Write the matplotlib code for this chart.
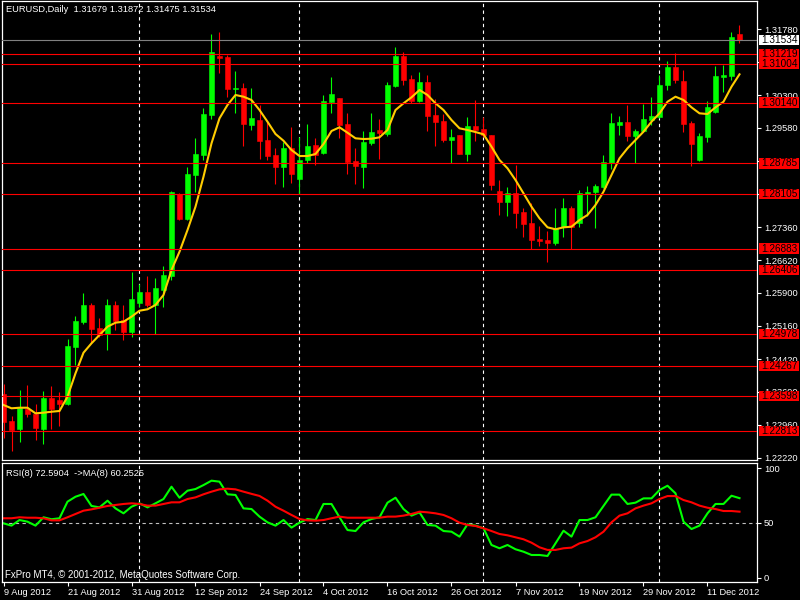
import matplotlib
matplotlib.use('Agg')
import matplotlib.pyplot as plt
import matplotlib.transforms as mtransforms
from matplotlib.patches import Rectangle

plt.rcParams['font.family'] = ['Liberation Sans', 'DejaVu Sans']

# EURUSD daily bars, 9 Aug 2012 .. 19 Dec 2012
opens = [1.23641, 1.23039, 1.22860, 1.23300, 1.23188, 1.22860, 1.23552, 1.23507, 1.23418, 1.24689,
         1.25246, 1.25626, 1.25113, 1.24979, 1.25626, 1.25291, 1.25023, 1.25670, 1.25915, 1.25626,
         1.25960, 1.26272, 1.28101, 1.27543, 1.28525, 1.28971, 1.29863, 1.31178, 1.31156, 1.30442,
         1.30465, 1.29640, 1.29751, 1.29305, 1.28971, 1.28703, 1.29127, 1.28435, 1.28859, 1.29194,
         1.29015, 1.30152, 1.30242, 1.29662, 1.28837, 1.28703, 1.29238, 1.29528, 1.29439, 1.30509,
         1.31178, 1.30665, 1.30175, 1.30598, 1.29863, 1.29729, 1.29305, 1.29417, 1.28993, 1.29617,
         1.29550, 1.29417, 1.28168, 1.27922, 1.28123, 1.27699, 1.27454, 1.27097, 1.27075, 1.27008,
         1.27365, 1.27789, 1.27454, 1.28101, 1.28145, 1.28257, 1.28792, 1.29640, 1.29706, 1.29394,
         1.29506, 1.29751, 1.29818, 1.30532, 1.30933, 1.30621, 1.29684, 1.28859, 1.29372, 1.29929,
         1.30710, 1.30732, 1.31679]
highs = [1.23864, 1.23150, 1.23730, 1.23842, 1.23418, 1.23708, 1.23819, 1.23685, 1.24867, 1.25380,
         1.25893, 1.25670, 1.25336, 1.25759, 1.25715, 1.25626, 1.26361, 1.26094, 1.26272, 1.26228,
         1.26495, 1.28168, 1.28123, 1.28703, 1.29356, 1.30019, 1.31669, 1.31713, 1.31201, 1.30844,
         1.30576, 1.30465, 1.30086, 1.29729, 1.29127, 1.29260, 1.29595, 1.29372, 1.29662, 1.29350,
         1.30309, 1.30710, 1.30242, 1.29907, 1.29127, 1.29506, 1.29907, 1.29773, 1.30598, 1.31379,
         1.31267, 1.30755, 1.30821, 1.30755, 1.30219, 1.29885, 1.29550, 1.29417, 1.29818, 1.30197,
         1.29818, 1.29417, 1.28413, 1.28257, 1.28748, 1.27789, 1.27900, 1.27387, 1.27276, 1.27789,
         1.28012, 1.27833, 1.28190, 1.28279, 1.28324, 1.28971, 1.29907, 1.29840, 1.30086, 1.29550,
         1.30108, 1.30264, 1.30755, 1.31067, 1.31245, 1.30866, 1.29729, 1.29461, 1.30175, 1.30955,
         1.30978, 1.31713, 1.31872]
lows = [1.22653, 1.22376, 1.22577, 1.23135, 1.22615, 1.22526, 1.22860, 1.22934, 1.23396, 1.24288,
        1.25202, 1.24778, 1.24919, 1.24622, 1.25068, 1.24845, 1.24912, 1.25581, 1.25581, 1.24979,
        1.25581, 1.26183, 1.27521, 1.27521, 1.28145, 1.28859, 1.29773, 1.30799, 1.30264, 1.29907,
        1.29171, 1.29528, 1.28881, 1.28859, 1.28324, 1.28257, 1.28346, 1.28101, 1.28792, 1.28748,
        1.28993, 1.29907, 1.29350, 1.28547, 1.28324, 1.28235, 1.29194, 1.28881, 1.29394, 1.30487,
        1.30532, 1.30130, 1.30152, 1.29506, 1.29171, 1.29260, 1.28792, 1.28993, 1.28837, 1.29283,
        1.29372, 1.28190, 1.27633, 1.27610, 1.27343, 1.27142, 1.26874, 1.26941, 1.26584, 1.26964,
        1.27142, 1.26874, 1.27365, 1.27610, 1.27343, 1.28235, 1.28658, 1.29417, 1.29283, 1.28792,
        1.29483, 1.29640, 1.29796, 1.30420, 1.30576, 1.29483, 1.28725, 1.28837, 1.29260, 1.29907,
        1.30375, 1.30643, 1.31475]
closes = [1.23023, 1.22838, 1.23322, 1.23195, 1.22889, 1.23552, 1.23306, 1.23418, 1.24711, 1.25269,
          1.25626, 1.25090, 1.24957, 1.25626, 1.25269, 1.25023, 1.25759, 1.25915, 1.25626, 1.26005,
          1.26295, 1.28145, 1.27543, 1.28547, 1.28993, 1.29885, 1.31267, 1.31134, 1.30442, 1.30465,
          1.29662, 1.29796, 1.29283, 1.28948, 1.28703, 1.29127, 1.28547, 1.28859, 1.29171, 1.28971,
          1.30175, 1.30331, 1.29640, 1.28814, 1.28725, 1.29260, 1.29483, 1.29461, 1.30532, 1.31178,
          1.30643, 1.30175, 1.30598, 1.29840, 1.29706, 1.29305, 1.29372, 1.28993, 1.29617, 1.29528,
          1.29417, 1.28302, 1.27922, 1.28123, 1.27677, 1.27432, 1.27075, 1.27053, 1.27008, 1.27343,
          1.27789, 1.27365, 1.28123, 1.28145, 1.28279, 1.28814, 1.29684, 1.29706, 1.29394, 1.29506,
          1.29773, 1.29840, 1.30532, 1.30933, 1.30643, 1.29662, 1.29216, 1.29394, 1.30041, 1.30732,
          1.30755, 1.31602, 1.31534]
# yellow moving average on the price panel
ma_line = [1.23396, 1.23322, 1.23335, 1.23335, 1.23210, 1.23224, 1.23246, 1.23262, 1.23581, 1.24102,
           1.24562, 1.24771, 1.24957, 1.25142, 1.25231, 1.25253, 1.25365, 1.25498, 1.25530, 1.25626,
           1.25849, 1.26406, 1.26814, 1.27298, 1.27818, 1.28487, 1.29231, 1.29789, 1.30086, 1.30309,
           1.30271, 1.30197, 1.29974, 1.29713, 1.29439, 1.29289, 1.29082, 1.28948, 1.28948, 1.28993,
           1.29216, 1.29506, 1.29588, 1.29468, 1.29343, 1.29327, 1.29334, 1.29365, 1.29528, 1.29974,
           1.30123, 1.30257, 1.30420, 1.30309, 1.30123, 1.29974, 1.29751, 1.29566, 1.29528, 1.29483,
           1.29432, 1.29156, 1.28859, 1.28674, 1.28413, 1.28116, 1.27818, 1.27559, 1.27358, 1.27314,
           1.27358, 1.27372, 1.27521, 1.27633, 1.27856, 1.28152, 1.28525, 1.28897, 1.29120, 1.29305,
           1.29490, 1.29713, 1.29900, 1.30159, 1.30271, 1.30197, 1.30034, 1.29900, 1.29885, 1.30034,
           1.30159, 1.30494, 1.30770]
rsi = [49.7, 47.6, 52.7, 51.2, 47.6, 55.2, 53.4, 54.3, 69.4, 73.9,
       76.4, 65.5, 64.2, 70.3, 63.3, 58.8, 64.8, 67.9, 64.2, 67.9,
       71.8, 83.0, 73.0, 79.4, 80.9, 84.5, 88.5, 87.6, 76.1, 75.5,
       63.3, 62.7, 55.8, 50.6, 47.6, 52.7, 45.8, 50.3, 53.6, 52.7,
       67.3, 67.3, 55.2, 43.6, 42.7, 50.6, 53.6, 55.2, 68.5, 73.0,
       62.7, 56.7, 59.7, 48.2, 47.6, 42.7, 42.1, 37.6, 48.8, 47.6,
       45.2, 30.0, 27.0, 30.0, 26.1, 23.9, 20.9, 20.9, 20.0, 31.5,
       43.0, 37.6, 52.7, 52.7, 55.2, 65.5, 75.8, 75.8, 67.3, 68.5,
       72.4, 72.4, 80.0, 83.9, 77.0, 51.2, 44.5, 47.6, 58.8, 67.3,
       67.3, 74.8, 72.6]
rsi_ma = [54.3, 54.3, 55.2, 54.8, 54.8, 54.3, 52.4, 52.4, 55.2, 58.2,
          61.2, 62.4, 63.9, 65.5, 66.4, 67.3, 67.9, 67.3, 65.8, 65.8,
          67.3, 68.8, 68.8, 71.8, 73.3, 76.1, 78.5, 80.6, 81.2, 80.6,
          78.5, 76.5, 74.6, 70.3, 64.8, 61.2, 57.3, 53.6, 52.4, 52.1,
          52.7, 54.3, 55.8, 54.8, 54.8, 54.8, 54.8, 54.8, 55.8, 55.8,
          56.7, 58.2, 60.3, 59.7, 58.8, 57.3, 54.3, 50.3, 48.2, 47.3,
          45.2, 42.7, 40.0, 38.8, 37.0, 35.2, 32.1, 27.9, 25.5, 25.5,
          27.0, 27.6, 31.5, 33.6, 37.0, 42.1, 50.6, 56.7, 58.8, 63.3,
          65.8, 67.9, 71.8, 74.5, 74.5, 70.9, 68.8, 65.8, 63.9, 62.7,
          60.9, 60.9, 60.3]

date_pos = [0, 8, 16, 24, 32, 40, 48, 56, 64, 72, 80, 88]
date_labels = ['9 Aug 2012', '21 Aug 2012', '31 Aug 2012', '12 Sep 2012', '24 Sep 2012', '4 Oct 2012',
               '16 Oct 2012', '26 Oct 2012', '7 Nov 2012', '19 Nov 2012', '29 Nov 2012', '11 Dec 2012']
month_starts = [17, 37, 60, 82]
price_ticks = [1.31780, 1.31040, 1.30300, 1.29580, 1.28840, 1.28100, 1.27360,
               1.26620, 1.25900, 1.25160, 1.24420, 1.23690, 1.22960, 1.22220]
# tick labels fully hidden behind the red price boxes
hidden_ticks = [1.31040, 1.28840, 1.28100]
levels = [1.31219, 1.31004, 1.30140, 1.28785, 1.28105, 1.26883, 1.26406,
          1.24978, 1.24267, 1.23598, 1.22813]
bid = 1.31534

FS = 6.7
fig = plt.figure(figsize=(8, 6), dpi=100, facecolor='black')
ax = fig.add_axes([0.0025, 0.23333, 0.94375, 0.765], facecolor='black')
ax2 = fig.add_axes([0.0025, 0.0305, 0.94375, 0.19733], facecolor='black')

n = len(closes)
xs = list(range(n))
for i in xs:
    col = '#00ff00' if closes[i] >= opens[i] else '#ff0000'
    ax.vlines(i, lows[i], highs[i], color=col, lw=0.8, zorder=2)
    lo, hi = min(opens[i], closes[i]), max(opens[i], closes[i])
    ax.bar(i, max(hi - lo, 0.00005), bottom=lo, width=0.6, color=col,
           edgecolor=col, lw=0.4, zorder=2)

ax.plot(xs, ma_line, color='#ffcc00', lw=1.5, zorder=2.5)

for lv in levels:
    ax.axhline(lv, color='#ff0000', lw=0.8, zorder=3)
ax.axhline(bid, color='#808080', lw=0.8, zorder=3)

for m in month_starts:
    ax.axvline(m, color='white', lw=0.8, ls=(0, (3, 3)), zorder=1)
    ax2.axvline(m, color='white', lw=0.8, ls=(0, (3, 3)), zorder=1)

ax.set_xlim(-0.1875, 94.1875)
ax.set_ylim(1.22169, 1.32405)
ax.set_xticks([])
ax.yaxis.tick_right()
ax.set_yticks(price_ticks)
ax.set_yticklabels(['' if t in hidden_ticks else '%.5f' % t for t in price_ticks])
ax.tick_params(axis='y', colors='white', length=3, width=0.8, labelsize=FS, pad=2)

# price boxes of the horizontal lines
trans = mtransforms.blended_transform_factory(ax.transAxes, ax.transData)
box_h = 0.00236
for lv, fc in [(v, '#ff0000') for v in levels] + [(bid, 'white')]:
    ax.add_patch(Rectangle((1.00265, lv - box_h / 2), 0.0530, box_h, transform=trans,
                           facecolor=fc, edgecolor='none', clip_on=False, zorder=9))
    ax.text(1.0055, lv, '%.5f' % lv, transform=trans, ha='left', va='center',
            fontsize=FS + 0.5, color='black', clip_on=False, zorder=10)

# RSI panel
ax2.axhline(50, color='#c0c0c0', lw=0.8, ls=(0, (3, 3)), zorder=1)
ax2.plot(xs, rsi, color='#00ff00', lw=1.5, zorder=2)
ax2.plot(xs, rsi_ma, color='#ff0000', lw=1.5, zorder=2)
ax2.set_xlim(-0.1875, 94.1875)
ax2.set_ylim(-3.4, 104.3)
ax2.yaxis.tick_right()
ax2.set_yticks([0, 50, 100])
ax2.set_yticklabels(['0', '50', '100'])
ax2.tick_params(axis='y', colors='white', length=3, width=0.8, labelsize=FS, pad=2)
ax2.set_xticks(date_pos)
ax2.set_xticklabels(date_labels)
ax2.tick_params(axis='x', colors='white', length=3, width=0.8, labelsize=FS, pad=1.5)
for lab in ax2.get_xticklabels():
    lab.set_ha('left')

for a in (ax, ax2):
    for s in a.spines.values():
        s.set_color('white')
        s.set_linewidth(0.9)

fig.text(6 / 800, 1 - 10 / 600, 'EURUSD,Daily  1.31679 1.31872 1.31475 1.31534',
         color='white', fontsize=FS, va='center')
fig.text(6 / 800, 1 - 473 / 600, 'RSI(8) 72.5904  ->MA(8) 60.2525',
         color='white', fontsize=FS, va='center')
fig.text(5 / 800, 1 - 575 / 600, 'FxPro MT4, \u00a9 2001-2012, MetaQuotes Software Corp.',
         color='white', fontsize=FS + 0.3, va='center')

fig.savefig('out.png', dpi=100, facecolor='black')
